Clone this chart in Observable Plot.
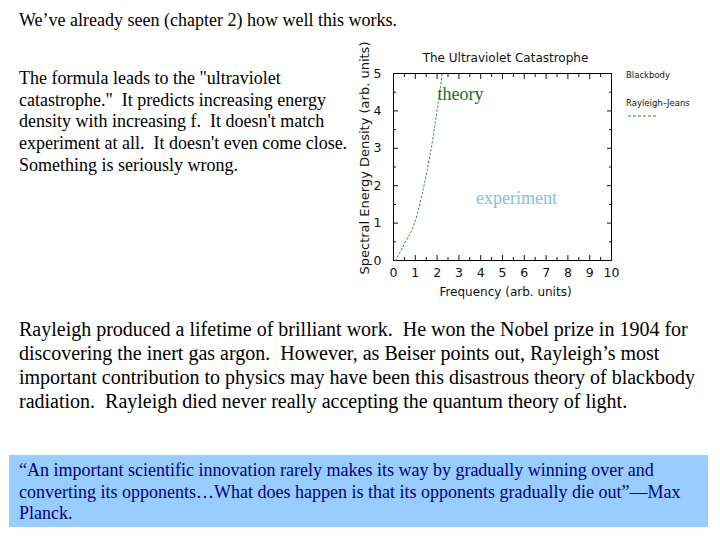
<!DOCTYPE html>
<html><head><meta charset="utf-8">
<script src="https://cdn.jsdelivr.net/npm/d3@7"></script>
<script src="https://cdn.jsdelivr.net/npm/@observablehq/plot@0.6"></script>
<style>
body{margin:0;background:#fff;width:720px;height:540px;position:relative;overflow:hidden;font-family:"Liberation Serif","Times New Roman",serif;}
.t{position:absolute;color:#000;white-space:nowrap;}
.lg{position:absolute;font-family:"DejaVu Sans",sans-serif;font-size:8.5px;color:#111;white-space:nowrap;}
</style></head><body>
<div class="t" style="left:19px;top:10px;font-size:18px;line-height:21px;">We’ve already seen (chapter 2) how well this works.</div>
<div class="t" style="left:19px;top:68px;font-size:18px;line-height:21.7px;">The formula leads to the "ultraviolet<br>catastrophe."&nbsp; It predicts increasing energy<br>density with increasing f.&nbsp; It doesn't match<br>experiment at all.&nbsp; It doesn't even come close.<br>Something is seriously wrong.</div>
<div id="chart" style="position:absolute;left:350px;top:40px;"></div>
<div class="lg" style="left:626px;top:70px;">Blackbody</div>
<div class="lg" style="left:626px;top:98px;">Rayleigh–Jeans</div>
<svg style="position:absolute;left:626px;top:113px;" width="36" height="6"><line x1="2" y1="3" x2="32" y2="3" stroke="#2e7d32" stroke-width="1" stroke-dasharray="3,2"/></svg>
<div class="t" style="left:19px;top:317px;font-size:20px;line-height:24px;">Rayleigh produced a lifetime of brilliant work.&nbsp; He won the Nobel prize in 1904 for<br>discovering the inert gas argon.&nbsp; However, as Beiser points out, Rayleigh’s most<br>important contribution to physics may have been this disastrous theory of blackbody<br>radiation.&nbsp; Rayleigh died never really accepting the quantum theory of light.</div>
<div style="position:absolute;left:9px;top:455px;width:699px;height:72px;background:#99ccff;"></div>
<div class="t" style="left:19px;top:460px;font-size:18px;line-height:21.5px;color:#000080;">“An important scientific innovation rarely makes its way by gradually winning over and<br>converting its opponents…What does happen is that its opponents gradually die out”—Max<br>Planck.</div>
<script>
// Rayleigh–Jeans curve
const freq   = [0.1, 0.5, 0.93, 1.1, 1.32, 1.55, 1.77, 1.93, 2.03, 2.16, 2.23];
const energy = [0, 0.45, 0.94, 1.26, 1.79, 2.43, 3.13, 3.74, 4.14, 4.63, 5.0];
const xTicks = [0,1,2,3,4,5,6,7,8,9,10];
const yTicks = [0,1,2,3,4,5];
const xMinor = [0.5,1.5,2.5,3.5,4.5,5.5,6.5,7.5,8.5,9.5];
const yMinor = [0.5,1.5,2.5,3.5,4.5];
const annLabels = ["theory", "experiment"];
const annF = [2.02, 5.64];
const annU = [4.44, 1.66];

const curve = freq.map((f, i) => ({f, u: energy[i]}));
const ann = annLabels.map((label, i) => ({label, f: annF[i], u: annU[i]}));
const blank = () => "";

const chart = Plot.plot({
  width: 350, height: 265,
  marginLeft: 43, marginRight: 89, marginTop: 33, marginBottom: 45,
  x: {domain: [0, 10]},
  y: {domain: [0, 5]},
  style: {fontFamily: "DejaVu Sans", fontSize: "12px", color: "#111", background: "transparent", overflow: "visible"},
  marks: [
    Plot.frame({stroke: "#000"}),
    Plot.axisX(xTicks, {anchor: "bottom", tickSize: -5, tickPadding: 13, label: null, fontSize: 12.5}),
    Plot.axisX(xTicks, {anchor: "top", tickSize: -5, tickFormat: blank, label: null}),
    Plot.axisX(xMinor, {anchor: "bottom", tickSize: -3, tickFormat: blank, label: null}),
    Plot.axisX(xMinor, {anchor: "top", tickSize: -3, tickFormat: blank, label: null}),
    Plot.axisY(yTicks, {anchor: "left", tickSize: -5, tickPadding: 17, label: null, fontSize: 12.5}),
    Plot.axisY(yTicks, {anchor: "right", tickSize: -5, tickFormat: blank, label: null}),
    Plot.axisY(yMinor, {anchor: "left", tickSize: -3, tickFormat: blank, label: null}),
    Plot.axisY(yMinor, {anchor: "right", tickSize: -3, tickFormat: blank, label: null}),
    Plot.line(curve, {x: "f", y: "u", curve: "monotone-x", stroke: "#2e7d32", strokeWidth: 1, strokeDasharray: "1.5,2.5"}),
    Plot.text(["The Ultraviolet Catastrophe"], {frameAnchor: "top", dy: -20, dx: 3, fontSize: 12}),
    Plot.text(["Frequency (arb. units)"], {frameAnchor: "bottom", dy: 35, dx: 3, fontSize: 12}),
    Plot.text(["Spectral Energy Density (arb. units)"], {frameAnchor: "left", textAnchor: "middle", rotate: -90, dx: -29, dy: -9, fontSize: 13}),
    Plot.text(ann.slice(0, 1), {x: "f", y: "u", text: "label", textAnchor: "start", fill: "#1e6b1e", fontFamily: "Liberation Serif", fontSize: 18}),
    Plot.text(ann.slice(1), {x: "f", y: "u", text: "label", textAnchor: "middle", fill: "#7cc4e0", fontFamily: "Liberation Serif", fontSize: 18})
  ]
});
document.getElementById("chart").appendChild(chart);
</script>
</body></html>
